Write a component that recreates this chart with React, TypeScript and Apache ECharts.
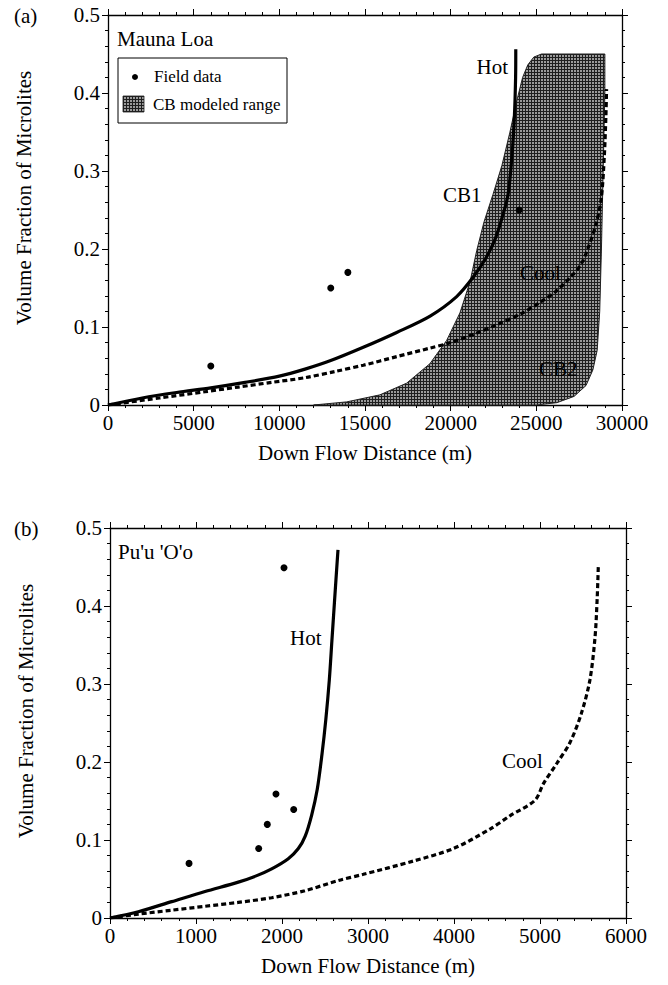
import React, { useEffect, useRef } from "react";
import * as echarts from "echarts";

// ---------- Panel (a): Mauna Loa ----------
const maunaField: number[][] = [
  [6000, 0.05], [13000, 0.15], [14000, 0.17], [24000, 0.25],
];
const maunaHot: number[][] = [
  [0, 0], [2000, 0.009], [4000, 0.016], [6000, 0.022], [8000, 0.029], [10000, 0.037],
  [11500, 0.046], [13000, 0.057], [14900, 0.074], [16850, 0.093], [18800, 0.114],
  [20350, 0.139], [21320, 0.164], [22100, 0.19], [22600, 0.213], [23000, 0.24],
  [23350, 0.27], [23580, 0.32], [23720, 0.37], [23790, 0.42], [23800, 0.456],
];
const maunaCool: number[][] = [
  [0, 0], [3000, 0.009], [5660, 0.017], [7600, 0.023], [9550, 0.029], [11500, 0.035],
  [13250, 0.043], [14900, 0.051], [16850, 0.062], [18800, 0.073], [20000, 0.08],
  [21500, 0.092], [22700, 0.103], [24200, 0.118], [25100, 0.13], [26100, 0.145],
  [27000, 0.164], [27600, 0.18], [28000, 0.2], [28500, 0.233], [28800, 0.267],
  [28970, 0.32], [29060, 0.37], [29100, 0.405],
];
// CB modeled range: left edge (CB1) bottom -> top, then right edge (CB2) top -> bottom
const cbRegion: number[][] = [
  [12000, 0], [13930, 0.004], [15870, 0.013], [17430, 0.028], [18790, 0.053],
  [19770, 0.083], [20540, 0.118], [21130, 0.158], [21520, 0.198], [21950, 0.235],
  [22470, 0.27], [22990, 0.307], [23450, 0.349], [23870, 0.391], [24200, 0.42],
  [24500, 0.436], [24850, 0.446], [25300, 0.45],
  [29000, 0.45], [29000, 0.4], [28900, 0.3], [28800, 0.2], [28700, 0.12],
  [28550, 0.07], [28300, 0.045], [27900, 0.025], [27200, 0.011], [26200, 0.003], [25000, 0],
];
const xTicksA = [0, 5000, 10000, 15000, 20000, 25000, 30000];

// ---------- Panel (b): Pu'u 'O'o ----------
const puuField: number[][] = [
  [919, 0.07], [1729, 0.089], [1829, 0.12], [1930, 0.159], [2136, 0.139], [2023, 0.449],
];
const puuHot: number[][] = [
  [0, 0], [329, 0.008], [717, 0.021], [1105, 0.034], [1492, 0.046], [1700, 0.054],
  [1880, 0.063], [2073, 0.076], [2190, 0.089], [2270, 0.105], [2345, 0.132],
  [2410, 0.165], [2465, 0.21], [2510, 0.255], [2550, 0.305], [2580, 0.355],
  [2610, 0.405], [2651, 0.472],
];
const puuCool: number[][] = [
  [0, 0], [329, 0.005], [717, 0.01], [1105, 0.015], [1492, 0.02], [1880, 0.026],
  [2267, 0.035], [2655, 0.048], [2946, 0.056], [3527, 0.073], [3992, 0.089],
  [4419, 0.114], [4651, 0.131], [4942, 0.151], [5039, 0.172], [5194, 0.198],
  [5349, 0.225], [5480, 0.262], [5580, 0.305], [5640, 0.36], [5665, 0.41], [5678, 0.451],
];
const xTicksB = [0, 1000, 2000, 3000, 4000, 5000, 6000];
const yTicks = [0, 0.1, 0.2, 0.3, 0.4, 0.5];

const FONT = "Times New Roman, Liberation Serif, DejaVu Serif, serif";

function makePattern() {
  const c = document.createElement("canvas");
  c.width = 3;
  c.height = 3;
  const ctx = c.getContext("2d")!;
  ctx.fillStyle = "#9a9a9a";
  ctx.fillRect(0, 0, 3, 3);
  ctx.fillStyle = "#1e1e1e";
  ctx.fillRect(0, 0, 3, 1);
  ctx.fillRect(0, 0, 1, 3);
  return { image: c, repeat: "repeat" } as any;
}

export default function App() {
  const ref = useRef<HTMLDivElement>(null);
  useEffect(() => {
    if (!ref.current) return;
    const chart = echarts.init(ref.current, null, { renderer: "svg" });
    const pattern = makePattern();

    const grids = [
      { left: 108, top: 15, width: 514, height: 390 },
      { left: 110, top: 528, width: 516, height: 390 },
    ];
    const axisLine = { lineStyle: { color: "#000", width: 1.3 } };
    const axisTick = { show: true, inside: false, length: 6, lineStyle: { color: "#000", width: 1 } };
    const minorTick = { show: true, splitNumber: 5, length: 3, lineStyle: { color: "#000", width: 1 } };
    const labelStyle = { color: "#000", fontFamily: FONT, fontSize: 21 };

    const mkX = (gi: number, max: number, interval: number, pos: "bottom" | "top") => ({
      type: "value",
      gridIndex: gi,
      position: pos,
      min: 0,
      max,
      interval,
      axisLine: { show: true, onZero: false, ...axisLine },
      axisTick,
      minorTick,
      splitLine: { show: false },
      axisLabel: pos === "bottom"
        ? { show: true, margin: 7, ...labelStyle, formatter: (v: number) => String(v) }
        : { show: false },
      name: pos === "bottom" ? "Down Flow Distance (m)" : "",
      nameLocation: "middle",
      nameGap: 37,
      nameTextStyle: { color: "#000", fontFamily: FONT, fontSize: 21 },
    });
    const mkY = (gi: number, pos: "left" | "right") => ({
      type: "value",
      gridIndex: gi,
      position: pos,
      min: 0,
      max: 0.5,
      interval: 0.1,
      axisLine: { show: true, onZero: false, ...axisLine },
      axisTick,
      minorTick,
      splitLine: { show: false },
      axisLabel: pos === "left"
        ? { show: true, margin: 8, ...labelStyle, formatter: (v: number) => (v === 0 ? "0" : v.toFixed(1)) }
        : { show: false },
      name: pos === "left" ? "Volume Fraction of Microlites" : "",
      nameLocation: "middle",
      nameGap: 74,
      nameTextStyle: { color: "#000", fontFamily: FONT, fontSize: 21, padding: [0, 0, 0, 24] },
    });

    const hotStyle = { color: "#000", width: 3.2 };
    const coolStyle = { color: "#000", width: 3.2, type: [5, 3] as any };

    const txt = (text: string, x: number, y: number, size = 21, align = "left") => ({
      type: "text",
      x,
      y,
      style: { text, fill: "#000", fontSize: size, fontFamily: FONT, textAlign: align, textVerticalAlign: "middle" },
      z: 100,
    });

    const lineCommon = { showSymbol: false, smooth: 0.3, z: 3 };

    const option: any = {
      animation: false,
      grid: grids,
      xAxis: [mkX(0, 30000, 5000, "bottom"), mkX(0, 30000, 5000, "top"), mkX(1, 6000, 1000, "bottom"), mkX(1, 6000, 1000, "top")],
      yAxis: [mkY(0, "left"), mkY(0, "right"), mkY(1, "left"), mkY(1, "right")],
      series: [
        {
          type: "custom",
          xAxisIndex: 0,
          yAxisIndex: 0,
          z: 1,
          data: [0],
          renderItem: (params: any, api: any) => {
            const pts = cbRegion.map((p) => api.coord(p));
            return {
              type: "polygon",
              shape: { points: pts },
              style: { fill: pattern, stroke: "#222", lineWidth: 1 },
            };
          },
        },
        { type: "line", xAxisIndex: 0, yAxisIndex: 0, data: maunaHot, lineStyle: hotStyle, ...lineCommon },
        { type: "line", xAxisIndex: 0, yAxisIndex: 0, data: maunaCool, lineStyle: coolStyle, ...lineCommon },
        { type: "scatter", xAxisIndex: 0, yAxisIndex: 0, data: maunaField, symbol: "circle", symbolSize: 7, itemStyle: { color: "#000", opacity: 1 }, z: 4 },
        { type: "line", xAxisIndex: 2, yAxisIndex: 2, data: puuHot, lineStyle: hotStyle, ...lineCommon },
        { type: "line", xAxisIndex: 2, yAxisIndex: 2, data: puuCool, lineStyle: coolStyle, ...lineCommon },
        { type: "scatter", xAxisIndex: 2, yAxisIndex: 2, data: puuField, symbol: "circle", symbolSize: 7, itemStyle: { color: "#000", opacity: 1 }, z: 4 },
      ],
      graphic: [
        txt("(a)", 14, 16),
        txt("(b)", 14, 529),
        txt("Mauna Loa", 117, 39),
        txt("Pu'u 'O'o", 118, 552),
        // legend box
        { type: "rect", shape: { x: 118, y: 58, width: 169, height: 65 }, style: { fill: "#fff", stroke: "#000", lineWidth: 1 }, z: 90 },
        { type: "circle", shape: { cx: 135, cy: 77, r: 3 }, style: { fill: "#000" }, z: 100 },
        txt("Field data", 154, 76, 17),
        { type: "rect", shape: { x: 123, y: 96, width: 21, height: 16 }, style: { fill: pattern, stroke: "#222", lineWidth: 0.8 }, z: 100 },
        txt("CB modeled range", 153, 104, 17),
        // curve labels
        txt("Hot", 508, 67, 21, "right"),
        txt("CB1", 443, 195),
        txt("Cool", 520, 273),
        txt("CB2", 539, 369),
        txt("Hot", 290, 638),
        txt("Cool", 502, 761),
      ],
    };
    chart.setOption(option);
    return () => chart.dispose();
  }, []);
  return <div ref={ref} style={{ position: "absolute", left: 0, top: 0, width: 668, height: 985, background: "#fff" }} />;
}
